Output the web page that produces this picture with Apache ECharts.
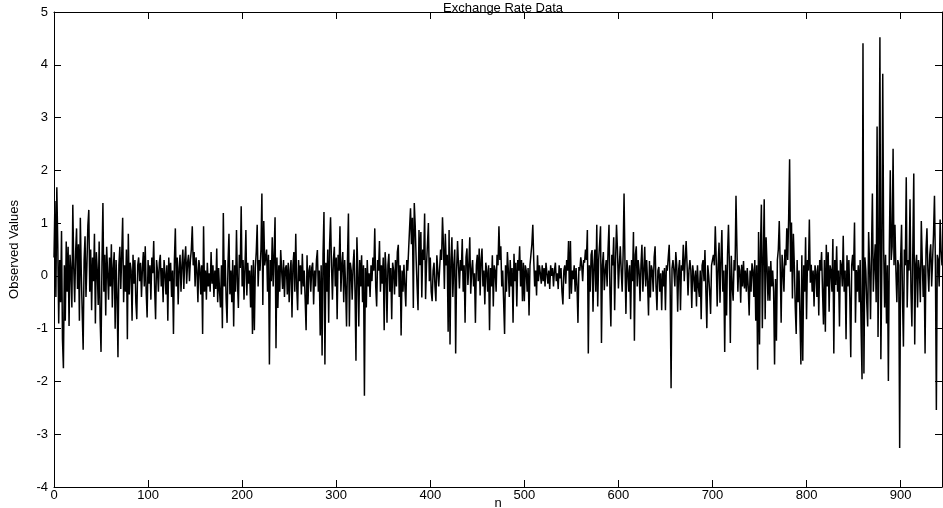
<!DOCTYPE html>
<html>
<head>
<meta charset="utf-8">
<script src="https://cdn.jsdelivr.net/npm/echarts@6/dist/echarts.min.js"></script>
<style>
html, body { margin: 0; padding: 0; background: #fff; }
#chart { width: 943px; height: 508px; }
</style>
</head>
<body>
<div id="chart"></div>
<script>
// observed values, index n = 0 .. 944
var observed = [
  0.35, 1.42, -0.4, 1.68, 0.6, -0.9, 0.3, -0.5, 0.85, -1.2,
  -1.75, 0.2, -0.85, 0.65, -0.3, 0.55, -0.95, 0.4, 0.1, -0.6,
  1.35, 0.15, -0.5, 0.45, 0.9, -0.25, 0.6, -0.85, 1.1, 0.05,
  -0.7, -1.4, 0.3, 0.75, -0.4, 0.2, 0.95, 1.25, -0.3, 0.5,
  -0.65, 0.35, -0.1, 0.8, -0.9, 0.45, 0.1, -0.55, 0.65, -0.8,
  -1.44, 0.25, 1.38, -0.3, 0.4, -0.75, 0.55, 0.05, -0.45, 0.35,
  -0.2, 0.6, -0.6, 0.15, 0.45, -1.0, 0.3, -0.35, -1.54, 0.2,
  0.55, -0.25, 0.4, 1.1, -0.5, 0.2, -0.3, 0.5, -1.2, 0.8,
  -0.35, 0.25, 0.1, -0.85, 0.4, -0.15, 0.3, -0.5, -0.82, 0.2,
  0.35, -0.1, 0.25, -0.4, 0.15, 0.45, -0.2, 0.56, -0.3, -0.79,
  0.3, -0.15, 0.2, -0.45, 0.35, 0.05, 0.66, -0.25, -0.82, 0.3,
  0.1, -0.3, 0.25, 0.4, -0.2, 0.15, -0.5, 0.3, 0.05, -0.35,
  0.2, -0.85, 0.35, -0.1, 0.25, -0.4, 0.1, -1.1, 0.3, 0.9,
  -0.2, 0.35, -0.54, 0.15, 0.4, -0.3, 0.2, 0.5, -0.25, 0.3,
  0.56, -0.15, 0.25, 0.4, -0.1, 0.3, 0.5, 0.94, 0.2, 0.45,
  -0.2, 0.35, 0.1, -0.5, 0.3, 0.15, -0.35, 0.2, -1.1, 0.94,
  -0.3, 0.1, -0.45, 0.25, -0.2, 0.05, -0.3, 0.45, -0.15, 0.2,
  -0.4, 0.1, -0.25, 0.52, -0.5, 0.15, -0.3, -0.6, 0.2, -0.99,
  1.19, -0.2, 0.3, -0.45, -0.89, 0.25, 0.8, -0.35, 0.1, -0.5,
  0.3, -0.96, 0.2, -0.3, 0.87, -0.1, -0.61, 0.4, 0.15, 1.32,
  -0.2, 0.3, -0.45, 0.15, 0.87, -0.37, 0.25, -0.15, 0.1, -0.6,
  0.2, -1.1, 0.3, -1.03, 0.15, 0.45, 0.97, -0.2, 0.3, 0.1,
  0.5, 1.56, -0.55, 1.04, 0.2, 0.35, 0.5, -0.3, 0.4, -1.68,
  0.3, -0.1, 0.73, -0.2, 0.4, 1.11, -1.37, 0.35, -0.61, 0.2,
  -0.3, 0.49, 0.1, -0.25, 0.3, -0.4, 0.15, 0.2, -0.35, 0.25,
  -0.5, 0.1, 0.3, -0.79, 0.2, 0.45, -0.3, 0.8, -0.2, -0.65,
  0.3, -0.1, 0.2, -0.35, 0.42, -0.2, 0.1, -0.45, -1.03, 0.39,
  -0.54, 0.1, 0.2, -0.3, 0.15, 0.25, -0.54, 0.1, -0.2, 0.3,
  0.49, -0.3, 0.1, -1.13, 0.2, -1.51, 0.4, 1.21, -1.68, 0.25,
  -0.3, 0.5, -0.89, 0.6, 1.11, 0.2, -0.45, 0.3, 0.55, -0.2,
  0.35, -0.82, 0.4, 0.1, 0.94, -0.3, 0.2, 0.45, -0.5, 0.3,
  -0.2, -0.96, 0.3, 1.18, -0.96, 0.25, 0.1, -0.45, 0.2, 0.5,
  -0.3, -1.61, 0.73, 0.1, -0.96, 0.3, -0.2, 0.39, -0.5, 0.2,
  -2.27, 0.15, -0.6, 0.3, -0.2, 0.05, -0.4, 0.2, -0.1, 0.35,
  0.1, 0.9, -0.2, -0.58, 0.3, 0.1, 0.66, -0.3, 0.2, -0.15,
  0.35, -1.03, 0.45, 0.1, -0.89, 0.2, 0.42, -0.3, 0.15, -0.82,
  0.25, 0.1, -0.35, 0.3, -0.2, 0.45, 0.59, -0.4, 0.2, -1.13,
  0.1, -0.3, 0.21, -0.2, -0.58, 0.3, 0.1, 0.5, 0.9, 1.28,
  0.6, 1.1, -0.61, 1.38, 0.95, 0.3, -0.2, -0.65, 0.87, 0.2,
  0.83, -0.41, 0.5, 0.3, 1.18, -0.44, 0.2, 0.6, 1.0, -0.1,
  0.35, -0.3, -0.48, 0.1, 0.25, -0.2, -0.48, 0.39, 0.1, -0.2,
  0.15, 0.5, 0.3, 1.11, 0.6, -0.25, 0.8, 0.2, 0.4, -1.06,
  0.87, -1.3, 0.3, 0.73, -0.4, 0.2, 0.5, -1.47, 0.1, 0.66,
  0.2, -0.24, 0.3, 0.1, 0.7, -0.3, 0.2, -0.89, 0.35, 0.52,
  -0.17, 0.2, 0.73, -0.34, 0.1, 0.3, -0.2, 0.05, -0.89, 0.2,
  0.4, -0.1, 0.52, -0.37, 0.3, 0.52, -0.2, 0.1, -0.54, 0.25,
  0.1, -0.3, 0.2, -1.03, 0.15, -0.2, 0.39, -0.58, 0.2, 0.1,
  -0.3, 0.4, 0.2, 0.94, 0.3, 0.56, -0.2, 0.1, -0.5, -1.1,
  0.2, -0.3, 0.45, 0.1, -0.4, 0.3, -0.2, 0.15, -0.89, 0.42,
  -0.1, 0.25, -0.58, 0.3, 0.1, 0.56, -0.2, 0.3, -0.48, 0.25,
  -0.48, 0.2, 0.1, -0.3, 0.15, -0.75, 0.2, 0.4, 0.6, 0.97,
  0.3, -0.2, 0.1, -0.37, 0.39, -0.1, 0.2, 0.05, -0.15, 0.2,
  -0.1, 0.15, -0.2, 0.25, 0.05, -0.15, 0.1, -0.25, 0.2, 0.0,
  0.15, -0.2, 0.1, 0.25, -0.1, 0.05, -0.25, 0.2, -0.05, 0.15,
  -0.3, -0.54, 0.1, 0.2, -0.15, 0.3, 0.1, 0.66, -0.44, 0.66,
  -0.34, 0.1, -0.06, 0.2, -0.3, 0.15, -0.2, -0.89, 0.17, 0.1,
  0.35, 0.2, -0.1, 0.3, 0.25, 0.5, 0.3, 0.87, -1.47, 0.2,
  -0.3, 0.4, 0.49, -0.68, 0.2, 0.5, -0.3, 0.97, -0.58, 0.3,
  0.6, 0.94, -1.27, 0.2, 0.45, -0.27, 0.1, 0.3, -0.2, 0.5,
  0.97, -0.3, -0.96, 0.4, 0.2, 0.73, -0.65, 0.3, 0.97, 0.5,
  -0.24, 0.2, 0.56, 0.1, -0.3, 0.4, 1.56, 0.2, -0.72, 0.3,
  0.1, -0.3, 0.2, -0.82, 0.3, -0.1, 0.83, -1.23, 0.4, 0.56,
  -0.2, 0.3, 0.1, -0.48, 0.2, 0.59, -0.3, 0.1, 0.55, -0.2,
  0.3, -0.1, -0.75, 0.28, -0.41, 0.2, 0.1, -0.3, 0.35, 0.56,
  -0.2, -0.65, 0.1, 0.17, -0.3, 0.05, -0.65, 0.1, -0.2, 0.15,
  -0.65, 0.2, 0.1, 0.35, 0.59, -0.2, -2.13, 0.14, 0.3, 0.1,
  -0.2, 0.45, 0.2, -0.68, 0.1, 0.3, -0.65, 0.2, 0.1, 0.59,
  -0.1, 0.3, 0.66, 0.2, -0.37, 0.1, 0.3, 0.1, -0.61, 0.2,
  0.0, -0.3, 0.1, -0.58, 0.2, -0.2, -0.4, 0.1, -0.82, 0.2,
  0.3, -0.1, 0.49, -0.3, -0.99, 0.2, 0.0, -0.3, -0.72, 0.2,
  0.3, 0.4, 0.2, 0.94, 0.3, -0.58, 0.2, 0.63, -0.51, 0.3,
  0.87, -0.3, 0.1, -1.44, 0.21, -0.75, 0.4, 0.97, 0.2, -1.27,
  0.38, -0.2, -0.47, 0.3, 0.1, 1.52, 0.52, -0.3, 0.2, 0.1,
  -0.51, 0.21, -0.2, 0.28, -0.24, 0.1, -0.3, 0.15, -0.2, -0.75,
  0.1, -0.3, 0.24, 0.1, -0.4, 0.3, -0.85, 0.2, -1.78, 0.83,
  -1.3, 0.5, 1.35, -0.99, 0.3, 1.45, -0.82, 0.73, 0.2, -0.47,
  0.18, -0.47, 0.28, -0.2, 0.1, -0.3, -1.68, -0.06, -1.23, 0.3,
  0.5, 1.04, 0.2, -0.89, 0.4, 0.1, -0.3, 0.5, 0.2, 0.9,
  0.3, 1.1, 2.21, 0.08, 1.01, -0.43, 0.8, 0.2, -0.6, -1.1,
  0.3, -0.5, 0.1, -0.8, -1.68, 0.39, -1.61, 0.2, -0.3, 0.73,
  -0.82, 0.3, 0.1, 1.07, -0.13, 0.21, -0.3, 0.1, -0.58, 0.2,
  0.08, -0.4, 0.2, -0.75, 0.3, 0.1, 0.45, -0.3, -0.92, 0.3,
  -1.06, 0.59, -0.2, 0.45, -0.68, 0.2, 0.1, -0.3, 0.7, -1.47,
  0.3, -0.17, 0.56, -0.3, 0.1, -0.96, 0.3, 0.2, -0.2, 0.76,
  -0.3, 0.1, -1.2, 0.39, -0.2, 0.3, -0.4, -1.54, 0.2, 0.4,
  0.1, 1.01, -0.89, 0.11, -0.3, 0.2, -0.5, 0.3, -1.0, -1.96,
  4.41, -1.85, 0.35, 0.1, -0.5, -0.96, 0.83, 0.2, -0.82, 0.4,
  1.56, -0.3, 0.2, 0.6, -0.5, 2.83, -1.16, 0.5, 4.52, -1.58,
  0.08, 3.83, 0.5, -0.6, 0.4, -0.9, 0.2, -1.99, 0.5, 2.0,
  0.3, 0.56, 2.41, 0.2, 0.97, 0.1, -0.5, 0.3, 0.2, -3.26,
  0.3, 0.97, -0.4, -1.34, 0.5, 0.2, 1.87, -0.6, 0.3, 0.1,
  1.45, -0.3, -0.96, 0.5, 1.94, -1.3, 0.2, 0.4, -0.6, 0.3,
  0.1, -0.5, 1.04, 0.3, -0.4, 0.2, -1.47, 0.5, 0.9, 0.1,
  -0.3, 0.4, 0.6, -0.2, 0.3, 0.8, 1.52, 0.2, -2.54, 0.4,
  0.3, -0.2, 1.07, 0.5, 0.2
];
var xTicks = [0, 100, 200, 300, 400, 500, 600, 700, 800, 900];
var yTicks = [-4, -3, -2, -1, 0, 1, 2, 3, 4, 5];

var chartDom = document.getElementById('chart');
var myChart = echarts.init(chartDom);
var font = 'Liberation Sans, Arial, Helvetica, sans-serif';

var axisLine = { show: true, onZero: false, lineStyle: { color: '#000', width: 1 } };
var tick = { show: true, inside: true, length: 7, lineStyle: { color: '#000' } };

var option = {
    animation: false,
    backgroundColor: '#fff',
    title: {
        text: 'Exchange Rate Data',
        left: 498,
        textAlign: 'center',
        top: -3,
        textStyle: { fontFamily: font, fontSize: 13, fontWeight: 'normal', color: '#000' }
    },
    grid: { left: 54, right: 1, top: 12, bottom: 21, outerBoundsMode: 'none', containLabel: false },
    xAxis: [
        {
            type: 'value',
            min: 0,
            max: observed.length - 1,
            interval: 100,
            name: 'n',
            nameLocation: 'middle',
            nameGap: 10,
            nameMoveOverlap: false,
            nameTextStyle: { fontFamily: font, fontSize: 13, color: '#000' },
            axisLine: axisLine,
            axisTick: tick,
            splitLine: { show: false },
            axisLabel: {
                fontFamily: font, fontSize: 13, color: '#000', margin: 2,
                showMaxLabel: false,
                formatter: function (v) { return xTicks.indexOf(v) >= 0 ? String(v) : ''; }
            }
        },
        {
            type: 'value',
            position: 'top',
            min: 0,
            max: observed.length - 1,
            interval: 100,
            axisLine: axisLine,
            axisTick: tick,
            splitLine: { show: false },
            axisLabel: { show: false }
        }
    ],
    yAxis: [
        {
            type: 'value',
            min: -4,
            max: 5,
            interval: 1,
            name: 'Observed Values',
            nameLocation: 'middle',
            nameGap: 33,
            nameMoveOverlap: false,
            nameTextStyle: { fontFamily: font, fontSize: 13, color: '#000' },
            axisLine: axisLine,
            axisTick: tick,
            splitLine: { show: false },
            axisLabel: {
                fontFamily: font, fontSize: 13, color: '#000', margin: 6,
                formatter: function (v) { return yTicks.indexOf(v) >= 0 ? String(v) : ''; }
            }
        },
        {
            type: 'value',
            position: 'right',
            min: -4,
            max: 5,
            interval: 1,
            axisLine: axisLine,
            axisTick: tick,
            splitLine: { show: false },
            axisLabel: { show: false }
        }
    ],
    series: [
        {
            type: 'line',
            xAxisIndex: 0,
            yAxisIndex: 0,
            data: observed.map(function (v, i) { return [i, v]; }),
            showSymbol: false,
            lineStyle: { color: '#000', width: 1.5 },
            silent: true
        }
    ]
};

option && myChart.setOption(option);
</script>
</body>
</html>
